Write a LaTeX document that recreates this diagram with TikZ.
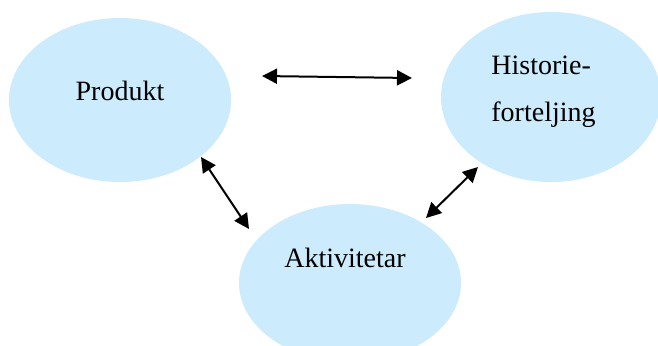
\documentclass[tikz,border=0pt]{standalone}
\usepackage{fontspec}
\setmainfont{Liberation Serif}
\usetikzlibrary{shapes.geometric,arrows.meta}
\definecolor{bubble}{HTML}{CCEBFC}
\begin{document}
\begin{tikzpicture}[x=0.5pt,y=-0.5pt,
  bubblenode/.style={ellipse,fill=bubble,draw=none,inner sep=0pt},
  lbl/.style={font=\fontsize{14}{14}\selectfont,inner sep=0pt,anchor=base},
  link/.style={line width=1pt,{Triangle[length=7.5pt,width=7.5pt]}-{Triangle[length=7.5pt,width=7.5pt]}}]
\useasboundingbox (0,0) rectangle (658,345);
\begin{scope}
\clip (0,0) rectangle (658,345);
\node[bubblenode,minimum width=111pt,minimum height=82pt] (produkt) at (120,100) {};
\node[bubblenode,minimum width=110pt,minimum height=85pt] (historie) at (551,97) {};
\node[bubblenode,minimum width=111pt,minimum height=79pt] (aktiv) at (350,283) {};
\end{scope}
\node[lbl] (tprodukt) at (120,100) {Produkt};
\node[lbl,anchor=base west] (thist1) at (491,74) {Historie-};
\node[lbl,anchor=base west] (thist2) at (491,121) {forteljing};
\node[lbl] (taktiv) at (345,267) {Aktivitetar};
\coordinate (a1) at (262,76);
\coordinate (a2) at (412,78);
\coordinate (b1) at (201,157);
\coordinate (b2) at (249,229);
\coordinate (c1) at (478,167);
\coordinate (c2) at (426,218);
\draw[link] (a1) -- (a2);
\draw[link] (b1) -- (b2);
\draw[link] (c1) -- (c2);
\end{tikzpicture}
\end{document}
